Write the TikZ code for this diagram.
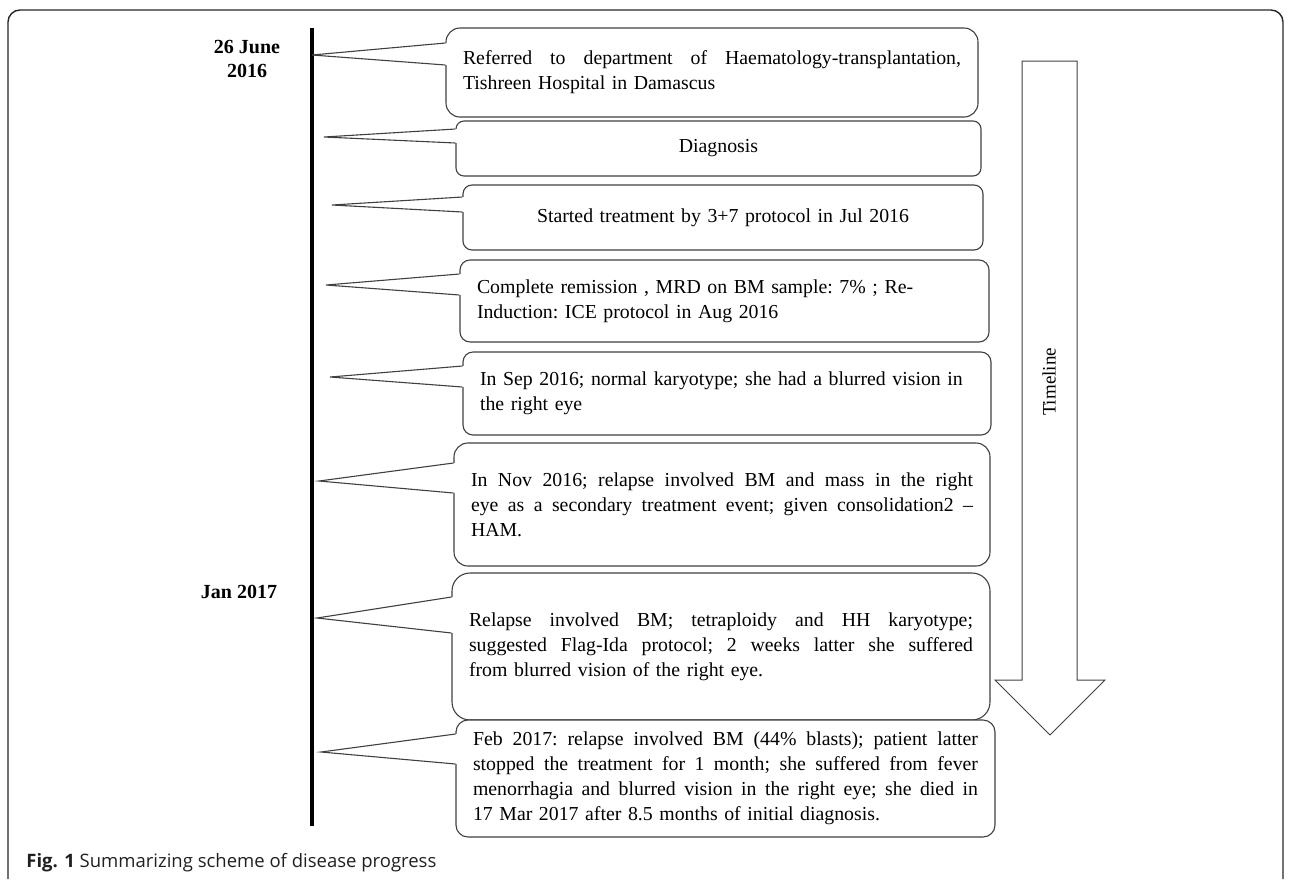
\documentclass[tikz,border=0pt]{standalone}
\usepackage{fontspec}
\setmainfont{Liberation Serif}
\newfontfamily\capfont{Open Sans}
\usetikzlibrary{calc}
\definecolor{evgray}{RGB}{64,64,64}
\definecolor{capgray}{RGB}{35,31,32}
\tikzset{
  evbox/.style={draw=evgray, line width=0.55pt, rounded corners=5pt, fill=white,
                inner xsep=8.5pt, inner ysep=2pt, font=\fontsize{9.9}{12.5}\selectfont\frenchspacing},
  evptr/.style={draw=evgray, line width=0.55pt, line join=miter},
  tline/.style={line width=2pt, black},
  datelab/.style={font=\fontsize{10}{12}\selectfont\bfseries, align=center, inner sep=0pt},
  frame/.style={draw=black!85, line width=0.7pt, rounded corners=6pt},
  bigarr/.style={draw=evgray, line width=0.5pt, line join=miter},
  arrlab/.style={font=\fontsize{9.5}{11}\selectfont, rotate=90, inner sep=0pt},
  caplab/.style={font=\capfont\fontsize{9.25}{11}\selectfont, text=capgray, anchor=west, inner sep=0pt},
}
\newcommand{\fullline}[2]{\makebox[#1][s]{\spaceskip=0.25em plus 1fil\relax #2}}
\newcommand{\evpointer}[4]{%
  \coordinate (pa) at (0,#3); \coordinate (pb) at (0,#4);
  \fill[white] (#2) -- ($(#1.west |- pa)+(1pt,0)$) -- ($(#1.west |- pb)+(1pt,0)$) -- cycle;
  \draw[evptr] (#1.west |- pa) -- (#2) -- (#1.west |- pb);}

\begin{document}
\begin{tikzpicture}[x=0.5pt, y=-0.5pt]
  \useasboundingbox (0,0) rectangle (1290,879);
  \draw[frame] (8,879) -- (8,10) -- (1283,10) -- (1283,879);

  \coordinate (ttop) at (312,28);
  \coordinate (tbot) at (312,826);
  \draw[tline] (ttop) -- (tbot);
  \node[datelab] (d1) at (247,59) {26 June\\2016};
  \node[datelab] (d2) at (239,592) {Jan 2017};

  \node[evbox, rounded corners=7pt, text width=249pt, minimum height=44.5pt, align=left] (ev1) at (712,72.5)
    {\fullline{249pt}{Referred to department of Haematology-transplantation,}\\Tishreen Hospital in Damascus};
  \node[evbox, rounded corners=4pt, text width=245.5pt, minimum height=27.5pt, align=center] (ev2) at (718.5,148.5)
    {Diagnosis};
  \node[evbox, rounded corners=4.5pt, text width=243pt, minimum height=32.5pt, align=center] (ev3) at (723,217.5)
    {Started treatment by 3+7 protocol in Jul 2016};
  \node[evbox, text width=247.5pt, minimum height=41pt, align=left] (ev4) at (724.5,301)
    {Complete remission , MRD on BM sample: 7\% ; Re-\\Induction: ICE protocol in Aug 2016};
  \node[evbox, text width=247pt, minimum height=41.5pt, align=left] (ev5) at (727,393.5)
    {In Sep 2016; normal karyotype; she had a blurred vision in\\the right eye};
  \node[evbox, rounded corners=7pt, text width=251pt, minimum height=61.5pt, align=left] (ev6) at (722,504.5)
    {\fullline{251pt}{In Nov 2016; relapse involved BM and mass in the right}\\
     \fullline{251pt}{eye as a secondary treatment event; given consolidation2 --}\\HAM.};
  \node[evbox, rounded corners=9pt, text width=252pt, minimum height=73.5pt, align=left] (ev7) at (721,646.5)
    {\fullline{252pt}{Relapse involved BM; tetraploidy and HH karyotype;}\\
     \fullline{252pt}{suggested Flag-Ida protocol; 2 weeks latter she suffered}\\
     from blurred vision of the right eye.};
  \node[evbox, rounded corners=6pt, text width=252.5pt, minimum height=58.5pt, align=left] (ev8) at (725.5,778.5)
    {\fullline{252.5pt}{Feb 2017: relapse involved BM (44\% blasts); patient latter}\\
     \fullline{252.5pt}{stopped the treatment for 1 month; she suffered from fever}\\
     \fullline{252.5pt}{menorrhagia and blurred vision in the right eye; she died in}\\
     17 Mar 2017 after 8.5 months of initial diagnosis.};

  \foreach \n/\tx/\ty/\pu/\pl in {1/312/55/43/65, 2/324/137/129/143, 3/332/205/197/212,
      4/326/285/274/295, 5/330/377/366/387, 6/319/481/463/493, 7/317/618/597/633, 8/321/752/734/764}
  {
    \coordinate (tip\n) at (\tx,\ty);
    \evpointer{ev\n}{tip\n}{\pu}{\pl}
  }

  \draw[bigarr] (1022,61) -- (1077,61) -- (1077,680) -- (1105,680) -- (1050,735)
    -- (995,680) -- (1022,680) -- cycle;
  \node[arrlab] (tlab) at (1049,382) {Timeline};

  \node[caplab] (cap) at (26,863) {\textbf{Fig. 1} Summarizing scheme of disease progress};
\end{tikzpicture}
\end{document}
